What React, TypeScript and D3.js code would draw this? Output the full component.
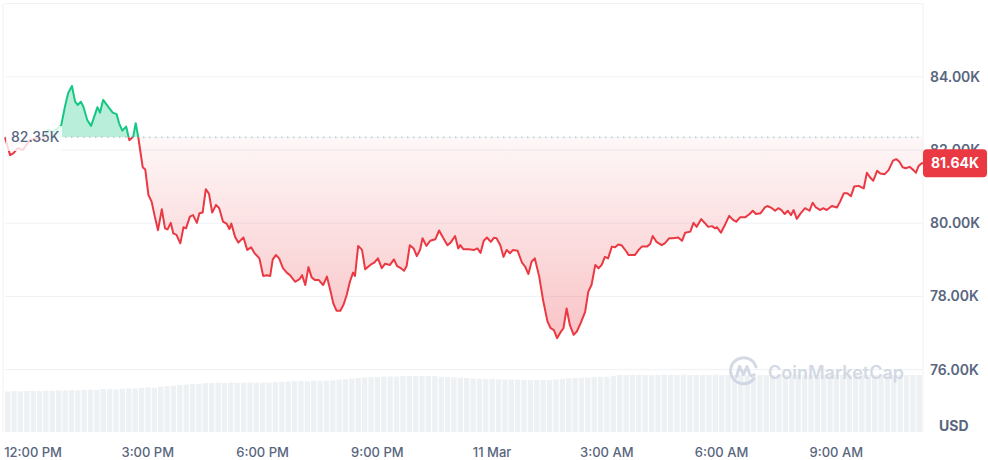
import React from 'react';
import * as d3 from 'd3';

// minutes relative to 10 Mar 12:00 PM
const minutesFrom12PM = [-44,-36,-31,-24,-16,-5,6,16,24,31,44,50,55,61,66,70,75,79,85,91,96,101,105,110,118,125,131,135,140,146,151,157,161,165,168,172,176,181,186,191,196,202,207,211,216,220,225,231,236,240,246,251,257,261,266,271,276,281,287,292,298,304,308,311,317,322,330,336,342,347,355,361,367,372,376,381,386,392,398,403,411,418,422,427,432,437,442,448,455,461,466,471,476,482,487,492,497,502,505,510,516,521,529,535,541,547,552,560,566,571,577,582,586,591,597,602,607,611,617,623,631,637,643,650,655,662,667,670,675,683,692,697,702,707,712,718,723,727,733,738,743,748,753,760,767,772,777,782,787,794,800,807,812,817,822,827,832,837,842,848,853,859,866,871,876,882,887,892,897,902,908,913,918,923,931,934,944,950,955,963,968,972,978,986,991,998,1004,1012,1018,1023,1031,1036,1041,1048,1054,1059,1065,1070,1073,1079,1086,1092,1098,1103,1109,1117,1124,1129,1134,1141,1148,1152,1159,1164,1169,1174,1179,1184,1189,1193,1198,1204,1211,1218,1223,1228,1235,1239,1245,1253,1261,1266,1272,1277,1283,1288,1295,1303,1308,1313,1318,1324,1329,1336,1342,1349,1354,1359,1364,1369,1375,1381,1385,1389,1394,1396];

// price in thousands USD
const pricesK = [82.35,81.86,81.91,82.05,82.00,82.27,82.33,82.27,82.55,82.49,82.66,83.18,83.55,83.75,83.32,83.23,83.32,83.18,82.82,82.66,82.91,83.17,83.02,83.37,83.18,83.02,82.98,82.73,82.53,82.64,82.27,82.36,82.73,82.36,82.00,81.53,81.47,80.77,80.59,80.18,79.81,80.38,79.86,79.83,80.01,79.72,79.68,79.45,79.89,79.86,80.18,80.22,80.01,80.27,80.29,80.93,80.80,80.29,80.50,80.41,80.04,79.98,79.84,79.99,79.62,79.47,79.61,79.27,79.34,79.19,79.04,78.56,78.58,78.56,79.01,79.13,79.04,78.77,78.65,78.58,78.40,78.47,78.58,78.31,78.80,78.52,78.45,78.45,78.31,78.54,78.19,77.81,77.61,77.61,77.77,78.04,78.40,78.65,78.56,79.38,79.27,78.74,78.86,78.92,79.04,78.77,78.89,78.86,79.01,78.83,78.77,78.70,78.83,79.40,79.31,79.10,79.27,79.59,79.38,79.52,79.56,79.80,79.61,79.40,79.47,79.65,79.31,79.40,79.29,79.29,79.27,79.31,79.19,79.52,79.61,79.49,79.60,79.59,79.40,79.08,79.27,79.18,79.27,79.25,78.92,78.81,78.61,78.95,79.04,78.54,77.90,77.31,77.13,77.08,76.86,77.01,77.13,77.67,77.22,76.95,77.04,77.27,77.58,78.13,78.31,78.86,78.77,78.86,79.08,79.04,79.36,79.34,79.42,79.40,79.22,79.13,79.13,79.27,79.36,79.36,79.43,79.65,79.49,79.40,79.45,79.59,79.59,79.61,79.52,79.74,79.77,80.01,79.90,80.11,80.00,79.90,79.92,79.86,79.89,79.74,79.98,80.20,80.09,80.04,80.16,80.16,80.25,80.34,80.25,80.27,80.43,80.47,80.41,80.34,80.41,80.36,80.25,80.34,80.22,80.36,80.12,80.27,80.41,80.34,80.56,80.43,80.36,80.41,80.36,80.47,80.43,80.59,80.82,80.82,80.74,81.00,81.02,80.95,81.38,81.25,81.16,81.43,81.36,81.34,81.45,81.71,81.75,81.68,81.53,81.50,81.54,81.45,81.38,81.56,81.64,81.64];

// 24h volume (billions USD), one bar per 10 minutes
const volumeBillions = [
  40.5,40.8,40.6,41.0,41.2,40.9,41.3,41.1,41.5,41.4,
  41.8,41.6,42.0,42.3,42.1,43.0,42.8,42.5,43.2,43.6,
  43.4,44.0,44.6,44.3,45.3,45.8,46.2,46.9,47.4,48.0,
  48.3,48.8,49.0,49.3,49.1,49.4,49.2,49.3,49.5,49.2,
  49.4,49.3,49.8,50.2,50.5,50.8,51.0,50.7,51.2,51.1,
  51.3,51.6,52.3,52.9,53.4,54.0,54.5,54.8,55.0,55.3,
  55.6,55.4,55.8,56.0,55.7,56.1,55.9,56.0,55.2,54.9,
  54.7,54.3,54.0,53.6,53.3,53.1,52.9,52.7,52.6,52.4,
  52.3,52.2,52.1,52.0,52.1,52.0,52.4,53.0,53.7,53.9,
  54.2,54.5,54.8,55.0,55.3,56.2,57.0,57.1,56.9,57.2,
  57.0,56.8,57.1,57.3,57.0,56.9,57.2,57.0,57.1,56.8,
  57.0,57.2,57.1,56.9,57.0,57.3,57.1,57.0,56.8,57.0,
  57.1,57.2,57.0,56.9,57.1,57.0,57.2,57.1,56.9,57.0,
  57.1,57.0,56.8,57.0,57.2,57.1,57.0,56.9,57.1,57.0,
  57.2,57.0,56.9,57.0
];

const yTickValues = [76, 78, 80, 82, 84];
const yGridExtra = [86];
const xTickMinutes = [0, 180, 360, 540, 720, 900, 1080, 1260];
const xTickLabels = ['12:00 PM', '3:00 PM', '6:00 PM', '9:00 PM', '11 Mar', '3:00 AM', '6:00 AM', '9:00 AM'];
const openPriceK = 82.35;
const lastPriceK = 81.64;
const barMinutes = 10;
const domainStartMin = -44;
const domainEndMin = 1396;

const GREEN = '#16c784';
const RED = '#ea3943';
const AXIS_TEXT = '#58667e';
const GRID = '#eff2f5';
const FONT = 'Inter, "Noto Sans", sans-serif';

const base = new Date(2025, 2, 10, 12, 0).getTime();
const toDate = (m: number) => new Date(base + m * 60000);

export default function App() {
  const W = 988, H = 460;
  const x = d3.scaleTime().domain([toDate(domainStartMin), toDate(domainEndMin)]).range([5, 923]);
  const y = d3.scaleLinear().domain([74, 86]).range([442.8, 3.6]);
  const v = d3.scaleLinear().domain([0, 60]).range([432, 372]);

  const data = minutesFrom12PM.map((m, i) => ({ t: toDate(m), p: pricesK[i] }));
  const yBase = y(openPriceK);
  const line = d3.line<{ t: Date; p: number }>().x(d => x(d.t)).y(d => y(d.p));
  const area = d3.area<{ t: Date; p: number }>().x(d => x(d.t)).y0(yBase).y1(d => y(d.p));
  const minP = d3.min(pricesK) as number;
  const linePath = line(data) || '';
  const areaPath = area(data) || '';

  const bars = volumeBillions.map((vol, i) => {
    const x0 = x(toDate(domainStartMin + i * barMinutes));
    const x1 = x(toDate(domainStartMin + (i + 1) * barMinutes));
    return { x: x0, w: Math.max(0.5, x1 - x0 - 1), y: v(vol), h: v(0) - v(vol) };
  });

  return (
    <svg width={W} height={H} style={{ position: 'absolute', left: 0, top: 0, background: '#fff' }} fontFamily={FONT}>
      <defs>
        <clipPath id="above"><rect x={0} y={0} width={W} height={yBase} /></clipPath>
        <clipPath id="below"><rect x={0} y={yBase} width={W} height={H - yBase} /></clipPath>
        <linearGradient id="redFill" gradientUnits="userSpaceOnUse" x1={0} y1={yBase} x2={0} y2={y(minP)}>
          <stop offset="0" stopColor={RED} stopOpacity={0.04} />
          <stop offset="1" stopColor={RED} stopOpacity={0.3} />
        </linearGradient>
      </defs>

      {/* volume bars */}
      <g>
        {bars.map((b, i) => (
          <rect key={i} x={b.x} y={b.y} width={b.w} height={b.h} fill="#eef1f4" />
        ))}
      </g>

      {/* grid */}
      {[...yTickValues, ...yGridExtra].map(t => (
        <line key={t} x1={5} x2={923} y1={y(t)} y2={y(t)} stroke={GRID} strokeWidth={1} />
      ))}
      <line x1={923} x2={923} y1={y(86)} y2={433} stroke={GRID} strokeWidth={1} />
      <line x1={3} x2={3} y1={y(86)} y2={433} stroke={GRID} strokeWidth={1} />

      {/* watermark */}
      <g opacity={0.9}>
        <g transform="translate(743.5,370.5)" fill="none" stroke="#cfd6e2" strokeWidth={3} strokeLinecap="round" strokeLinejoin="round">
          <path d="M 10.5 8 A 13 13 0 1 1 12.5 -3.5" />
          <path d="M -7 6 L -4 -4 L 0 4 L 3.5 -4 L 6 3 Q 7.5 7 10.5 4" />
        </g>
        <text x={768} y={378.5} fontSize={18} fontWeight={600} fill="#cfd6e2">CoinMarketCap</text>
      </g>

      {/* area fills */}
      <path d={areaPath} fill={GREEN} fillOpacity={0.3} clipPath="url(#above)" />
      <path d={areaPath} fill="url(#redFill)" clipPath="url(#below)" />

      {/* baseline */}
      <line x1={5} x2={923} y1={yBase} y2={yBase} stroke="#a6b0c3" strokeWidth={1} strokeDasharray="1.5 4.5" />

      {/* price line */}
      <path d={linePath} fill="none" stroke={GREEN} strokeWidth={2} strokeLinejoin="round" clipPath="url(#above)" />
      <path d={linePath} fill="none" stroke={RED} strokeWidth={2} strokeLinejoin="round" clipPath="url(#below)" />

      {/* open price label */}
      <rect x={6} y={126} width={56} height={25} fill="#fff" fillOpacity={0.8} />
      <text x={11} y={yBase + 5} fontSize={14} fontWeight={500} fill={AXIS_TEXT}>{d3.format('.2f')(openPriceK)}K</text>

      {/* y axis labels */}
      {yTickValues.map(t => (
        <text key={t} x={930} y={y(t) + 5} fontSize={14} fontWeight={600} fill={AXIS_TEXT}>{d3.format('.2f')(t)}K</text>
      ))}
      <text x={939} y={431} fontSize={14} fontWeight={700} fill={AXIS_TEXT}>USD</text>

      {/* last price tag */}
      <rect x={923} y={y(lastPriceK) - 14} width={64} height={28} rx={4} fill={RED} />
      <text x={955} y={y(lastPriceK) + 5} fontSize={14} fontWeight={700} fill="#fff" textAnchor="middle">{d3.format('.2f')(lastPriceK)}K</text>

      {/* x axis labels */}
      {xTickMinutes.map((m, i) => (
        <text key={m} x={x(toDate(m))} y={457} fontSize={13} fontWeight={500} fill={AXIS_TEXT} textAnchor="middle">{xTickLabels[i]}</text>
      ))}
    </svg>
  );
}
